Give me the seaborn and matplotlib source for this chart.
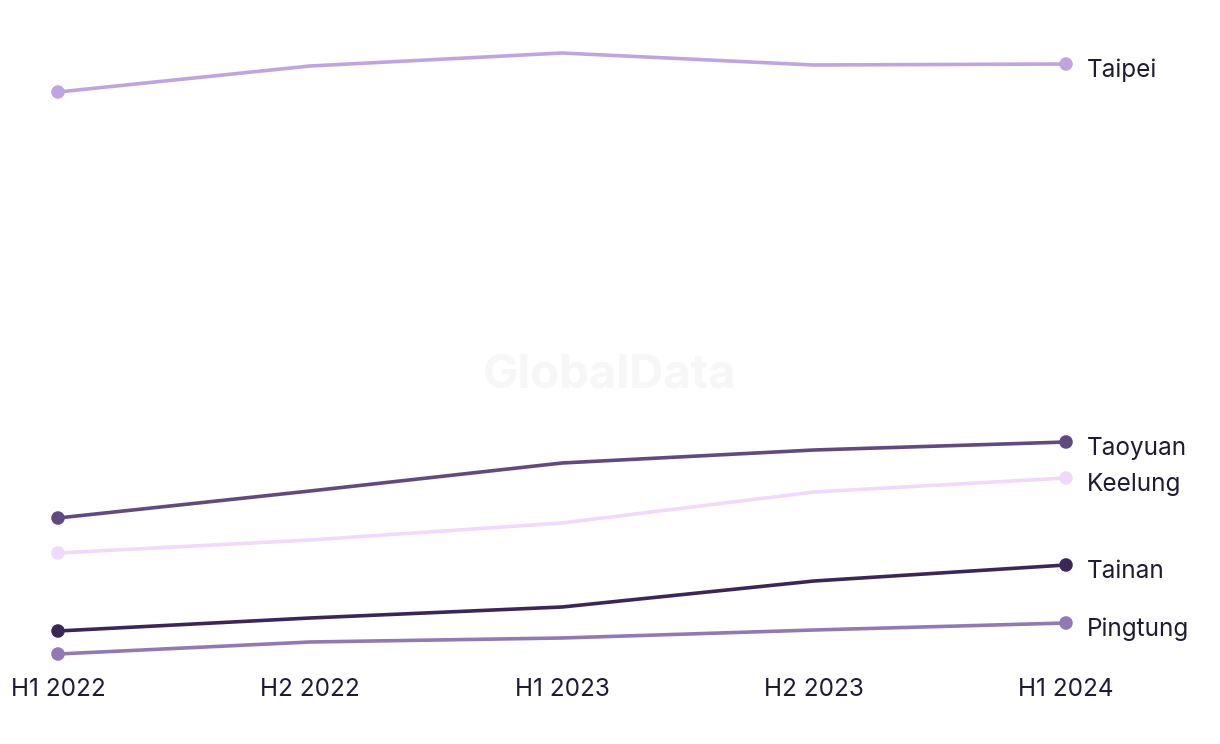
import pandas as pd
import matplotlib.pyplot as plt
import seaborn as sns

periods = ['H1 2022', 'H2 2022', 'H1 2023', 'H2 2023', 'H1 2024']
cities = ['Taipei', 'Taoyuan', 'Keelung', 'Tainan', 'Pingtung']
taipei = [60.8, 63.4, 64.7, 63.5, 63.6]
taoyuan = [18.2, 20.9, 23.7, 25.0, 25.8]
keelung = [14.7, 16.0, 17.7, 20.8, 22.2]
tainan = [6.9, 8.2, 9.3, 11.9, 13.5]
pingtung = [4.6, 5.8, 6.2, 7.0, 7.7]
colors = ['#c0a4e2', '#604a80', '#f1d9fb', '#3b2658', '#9079b4']

values = [taipei, taoyuan, keelung, tainan, pingtung]
rows = []
for city, vals in zip(cities, values):
    for p, v in zip(periods, vals):
        rows.append((city, p, v))
df = pd.DataFrame(rows, columns=['city', 'period', 'value'])
palette = dict(zip(cities, colors))

sns.set_style('white')
plt.rcParams['font.family'] = ['Inter', 'DejaVu Sans']

fig = plt.figure(figsize=(12.2, 7.44), dpi=100)
ax = fig.add_axes([58 / 1220, 76 / 744, 1008 / 1220, 668 / 744])

# watermark
fig.text(0.5, 0.495, 'GlobalData', ha='center', va='center', fontsize=34,
         fontweight='bold', color='#f7f7f7', zorder=0)

sns.lineplot(data=df, x='period', y='value', hue='city', palette=palette,
             linewidth=2.6, legend=False, ax=ax)
ends = df[df['period'].isin([periods[0], periods[-1]])]
sns.scatterplot(data=ends, x='period', y='value', hue='city', palette=palette,
                s=95, edgecolor='none', legend=False, ax=ax, zorder=3)
for c in ax.collections + ax.lines:
    c.set_clip_on(False)

for city, vals in zip(cities, values):
    ax.annotate(city, xy=(4, vals[-1]), xytext=(15, -4.5),
                textcoords='offset points', va='center', ha='left',
                fontsize=17.5, color='#1e1c30')

ax.set_xlim(0, 4)
ax.set_ylim(3.2, 70)
ax.set_xlabel('')
ax.set_ylabel('')
ax.set_yticks([])
ax.tick_params(axis='x', length=0, labelsize=17.5, labelcolor='#1e1c30', pad=7)
sns.despine(ax=ax, left=True, bottom=True)

fig.savefig('out.png', dpi=100)
